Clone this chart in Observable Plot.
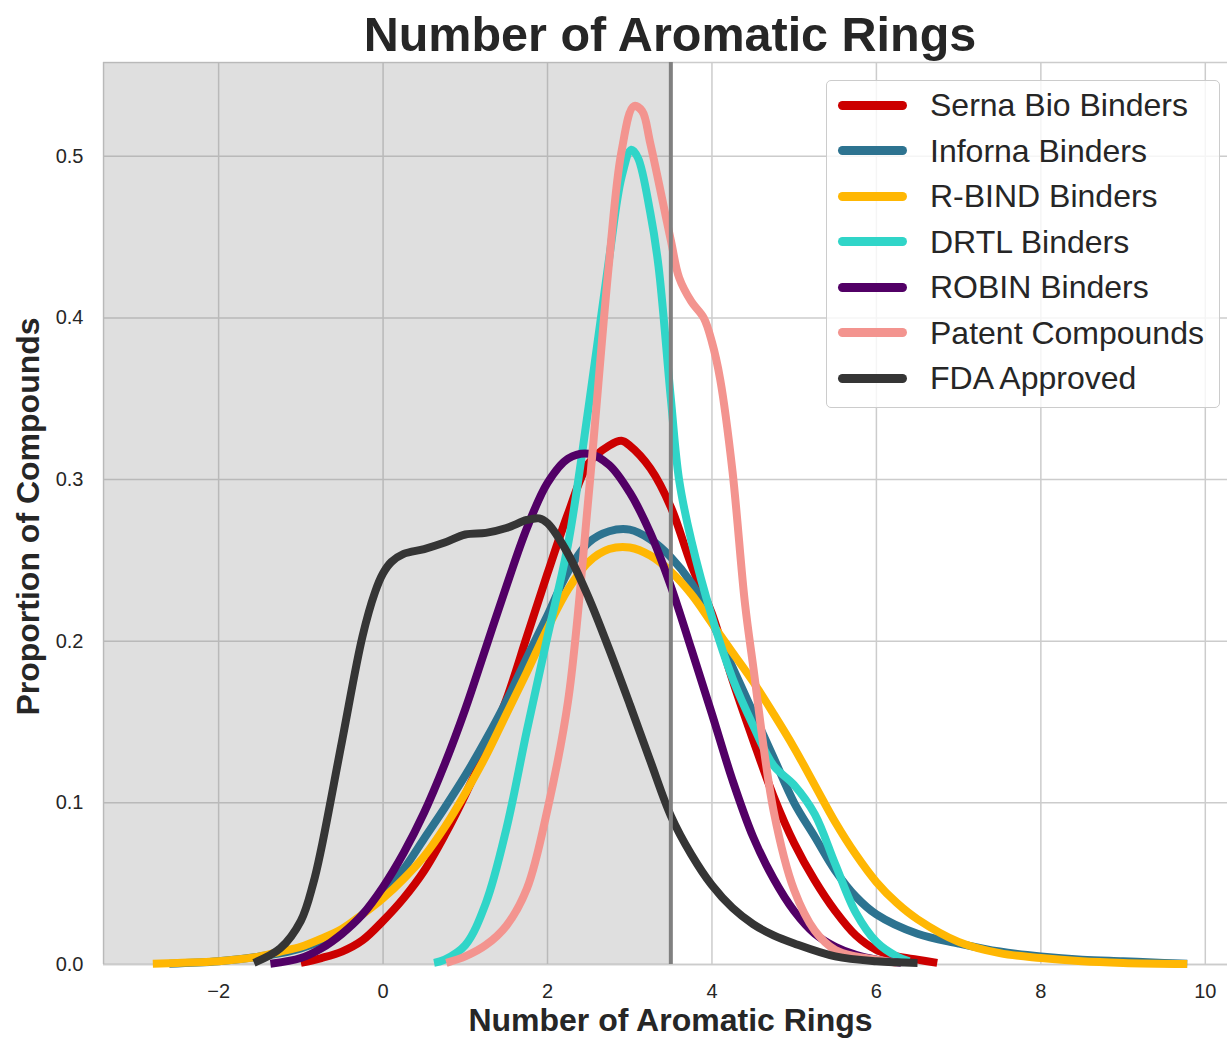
<!DOCTYPE html>
<html>
<head>
<meta charset="utf-8">
<script src="https://cdn.jsdelivr.net/npm/d3@7"></script>
<script src="https://cdn.jsdelivr.net/npm/@observablehq/plot@0.6"></script>
<style>
  html, body { margin: 0; padding: 0; background: #ffffff; }
  #wrap { position: relative; width: 1227px; height: 1039px; overflow: hidden;
          font-family: "Liberation Sans", Arial, Helvetica, sans-serif; color: #262626; }
  #title { position: absolute; top: 10px; left: 670px; transform: translateX(-50%);
           font-size: 48.5px; line-height: 48px; font-weight: bold; white-space: nowrap; }
  #plotholder { position: absolute; top: 58px; left: 0; }
  #legend { position: absolute; left: 826px; top: 80px; width: 394px; height: 328px; box-sizing: border-box;
            background: rgba(255,255,255,0.8); border: 1.5px solid #cccccc; border-radius: 5px; }
  .sw { position: absolute; left: 11px; width: 69px; height: 9px; border-radius: 4.5px; }
  .lt { position: absolute; left: 103px; font-size: 32px; line-height: 32px; white-space: nowrap; }
</style>
</head>
<body>
<div id="wrap">
  <div id="title"></div>
  <div id="plotholder"></div>
  <div id="legend"></div>
</div>
<script>
// ---- chart data ----
const titleText = "Number of Aromatic Rings";
const xLabel = "Number of Aromatic Rings";
const yLabel = "Proportion of Compounds";
const seriesNames = ["Serna Bio Binders", "Inforna Binders", "R-BIND Binders", "DRTL Binders", "ROBIN Binders", "Patent Compounds", "FDA Approved"];
const seriesColors = ["#cc0000", "#2d7390", "#ffb703", "#30d5c8", "#520066", "#f3948f", "#353535"];
const xTicks = [-2, 0, 2, 4, 6, 8, 10];
const yTicks = [0, 0.1, 0.2, 0.3, 0.4, 0.5];
const xDomain = [-3.4, 10.27];
const yDomain = [0, 0.558];
const threshold = 3.5;

const sernaBio = [[-1.0,0.001],[-0.75,0.004],[-0.5,0.008],[-0.25,0.015],[0,0.027],[0.25,0.041],[0.5,0.058],[0.75,0.080],[1.0,0.105],[1.25,0.133],[1.5,0.164],[1.75,0.203],[2.0,0.242],[2.25,0.279],[2.5,0.310],[2.75,0.321],[2.9,0.324],[3.0,0.321],[3.25,0.307],[3.5,0.283],[3.75,0.247],[4.0,0.217],[4.25,0.176],[4.5,0.139],[4.75,0.104],[5.0,0.075],[5.25,0.052],[5.5,0.033],[5.75,0.018],[6.0,0.009],[6.25,0.005],[6.5,0.003],[6.74,0.001]];
const inforna = [[-2.6,0.0005],[-2.0,0.002],[-1.5,0.005],[-1.0,0.010],[-0.5,0.021],[-0.25,0.031],[0,0.044],[0.25,0.059],[0.5,0.078],[0.75,0.097],[1.0,0.117],[1.25,0.139],[1.5,0.163],[1.75,0.190],[2.0,0.216],[2.25,0.243],[2.5,0.261],[2.75,0.268],[3.0,0.269],[3.25,0.263],[3.5,0.252],[3.75,0.236],[4.0,0.212],[4.25,0.184],[4.5,0.156],[4.75,0.128],[5.0,0.100],[5.25,0.079],[5.5,0.058],[5.75,0.042],[6.0,0.031],[6.5,0.019],[7.0,0.013],[7.5,0.008],[8.0,0.005],[8.5,0.003],[9.0,0.002],[9.5,0.001],[9.78,0.0005]];
const rbind = [[-2.8,0.0005],[-2.5,0.001],[-2.0,0.002],[-1.5,0.005],[-1.25,0.008],[-1.0,0.011],[-0.75,0.016],[-0.5,0.022],[-0.25,0.031],[0,0.041],[0.25,0.053],[0.5,0.067],[0.75,0.085],[1.0,0.106],[1.25,0.129],[1.5,0.155],[1.75,0.181],[2.0,0.208],[2.25,0.232],[2.5,0.249],[2.75,0.257],[3.0,0.258],[3.25,0.253],[3.5,0.243],[3.75,0.229],[4.0,0.211],[4.25,0.193],[4.5,0.175],[4.75,0.155],[5.0,0.134],[5.25,0.111],[5.5,0.088],[5.75,0.068],[6.0,0.051],[6.25,0.038],[6.5,0.028],[7.0,0.014],[7.5,0.007],[8.0,0.004],[8.5,0.002],[9.0,0.001],[9.78,0.0003]];
const drtl = [[0.62,0.001],[0.75,0.003],[1.0,0.012],[1.25,0.038],[1.5,0.084],[1.75,0.145],[2.0,0.203],[2.25,0.260],[2.5,0.345],[2.75,0.437],[2.9,0.487],[3.02,0.504],[3.1,0.499],[3.25,0.465],[3.35,0.432],[3.5,0.350],[3.6,0.300],[3.75,0.262],[4.0,0.215],[4.25,0.177],[4.5,0.148],[4.75,0.123],[5.0,0.111],[5.25,0.093],[5.5,0.062],[5.75,0.032],[6.0,0.014],[6.25,0.005],[6.4,0.002]];
const robin = [[-1.37,0.0005],[-1.0,0.004],[-0.75,0.010],[-0.5,0.019],[-0.25,0.031],[0,0.048],[0.25,0.069],[0.5,0.094],[0.75,0.124],[1.0,0.158],[1.25,0.196],[1.5,0.234],[1.75,0.270],[2.0,0.298],[2.25,0.313],[2.5,0.316],[2.75,0.309],[3.0,0.292],[3.25,0.267],[3.5,0.234],[3.75,0.195],[4.0,0.155],[4.25,0.114],[4.5,0.079],[4.75,0.053],[5.0,0.033],[5.25,0.019],[5.5,0.011],[5.75,0.006],[6.0,0.003],[6.3,0.001]];
const patent = [[0.77,0.001],[1.0,0.005],[1.25,0.012],[1.5,0.024],[1.75,0.047],[2.0,0.096],[2.25,0.163],[2.5,0.290],[2.75,0.435],[2.9,0.503],[3.05,0.531],[3.15,0.528],[3.25,0.508],[3.5,0.448],[3.6,0.425],[3.75,0.410],[3.9,0.400],[4.0,0.385],[4.1,0.362],[4.25,0.305],[4.4,0.224],[4.5,0.185],[4.75,0.095],[5.0,0.046],[5.25,0.021],[5.5,0.009],[5.75,0.005],[6.0,0.003],[6.25,0.001]];
const fdaApproved = [[-1.57,0.001],[-1.25,0.010],[-1.0,0.027],[-0.85,0.050],[-0.75,0.072],[-0.5,0.138],[-0.25,0.203],[-0.1,0.230],[0.0,0.242],[0.1,0.249],[0.25,0.254],[0.5,0.257],[0.75,0.261],[1.0,0.266],[1.25,0.267],[1.5,0.270],[1.75,0.275],[1.9,0.276],[2.0,0.273],[2.25,0.254],[2.5,0.227],[2.75,0.195],[3.0,0.161],[3.25,0.126],[3.5,0.092],[3.75,0.068],[4.0,0.049],[4.25,0.035],[4.5,0.025],[4.75,0.018],[5.0,0.013],[5.5,0.005],[6.0,0.002],[6.5,0.001]];

const allSeries = [sernaBio, inforna, rbind, drtl, robin, patent, fdaApproved];

// ---- build ----
document.getElementById("title").textContent = titleText;

const fmtX = d => (d < 0 ? "\u2212" + Math.abs(d) : String(d));
const fmtY = d3.format(".1f");
const font = "'Liberation Sans', Arial, Helvetica, sans-serif";

const lineMarks = allSeries.map((s, i) =>
  Plot.line(s, {x: d => d[0], y: d => d[1], stroke: seriesColors[i], strokeWidth: 8,
                curve: "catmull-rom", strokeLinejoin: "round", strokeLinecap: "butt"})
);

const chart = Plot.plot({
  width: 1227,
  height: 981,
  marginTop: 4,
  marginBottom: 75,
  marginLeft: 103,
  marginRight: 0,
  x: {domain: xDomain},
  y: {domain: yDomain},
  style: {fontFamily: font, color: "#262626", background: "transparent", overflow: "visible"},
  marks: [
    Plot.gridX(xTicks, {stroke: "#cccccc", strokeOpacity: 1, strokeWidth: 1.5}),
    Plot.gridY(yTicks, {stroke: "#cccccc", strokeOpacity: 1, strokeWidth: 1.5}),
    Plot.ruleY([yDomain[0], yDomain[1]], {stroke: "#cccccc", strokeWidth: 1.5}),
    Plot.ruleX([xDomain[0]], {stroke: "#cccccc", strokeWidth: 1.5}),
    Plot.rect([{x1: xDomain[0], x2: threshold}], {x1: "x1", x2: "x2", fill: "#808080", fillOpacity: 0.25}),
    ...lineMarks,
    Plot.ruleX([threshold], {stroke: "#808080", strokeWidth: 4}),
    Plot.axisX(xTicks, {tickSize: 0, tickPadding: 19, fontSize: 20, tickFormat: fmtX, label: null, fill: "#262626"}),
    Plot.axisY(yTicks, {tickSize: 0, tickPadding: 20, fontSize: 20, tickFormat: fmtY, label: null, fill: "#262626"}),
    Plot.text([xLabel], {frameAnchor: "bottom", textAnchor: "middle", lineAnchor: "middle", dx: 5, dy: 56, fontSize: 32, fontWeight: "bold", fill: "#262626"}),
    Plot.text([yLabel], {frameAnchor: "left", textAnchor: "middle", lineAnchor: "middle", rotate: -90, dx: -75, dy: 3, fontSize: 32, fontWeight: "bold", fill: "#262626"})
  ]
});
document.getElementById("plotholder").appendChild(chart);

// ---- legend ----
const legend = document.getElementById("legend");
seriesNames.forEach((name, i) => {
  const cy = 24 + 45.5 * i;
  const sw = document.createElement("div");
  sw.className = "sw";
  sw.style.top = (cy - 4.5) + "px";
  sw.style.background = seriesColors[i];
  legend.appendChild(sw);
  const t = document.createElement("div");
  t.className = "lt";
  t.style.top = (cy - 16) + "px";
  t.textContent = name;
  legend.appendChild(t);
});
</script>
</body>
</html>
